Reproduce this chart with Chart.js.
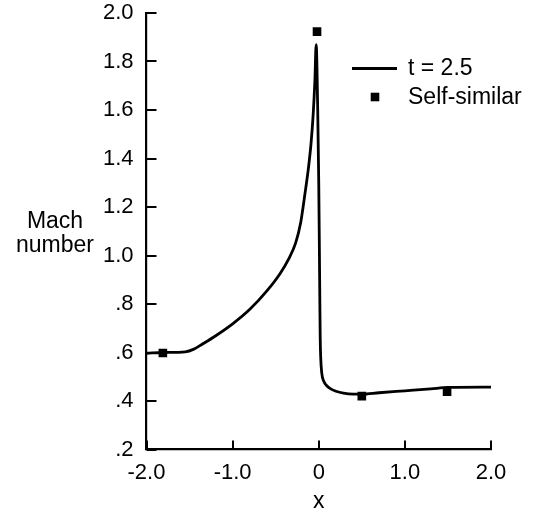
<!DOCTYPE html>
<html>
<head>
<meta charset="utf-8">
<script src="https://cdn.jsdelivr.net/npm/chart.js@4"></script>
<style>
  html, body { margin: 0; padding: 0; background: #fff; }
  #wrap { width: 543px; height: 514px; }
</style>
</head>
<body>
<div id="wrap"><canvas id="c" width="543" height="514"></canvas></div>
<script>
// ---- data ----
const curveX = [-2.0, -1.8, -1.55, -1.45, -1.35, -1.2, -1.0, -0.8, -0.6, -0.45, -0.35, -0.27, -0.21, -0.16, -0.12, -0.09, -0.065, -0.045, -0.03, -0.012, 0.0, 0.008, 0.013, 0.017, 0.022, 0.035, 0.06, 0.09, 0.13, 0.2, 0.286, 0.4, 0.5, 0.7, 1.0, 1.3, 1.5, 2.0];
const curveY = [0.597, 0.600, 0.603, 0.614, 0.635, 0.668, 0.718, 0.778, 0.855, 0.925, 0.985, 1.050, 1.135, 1.255, 1.360, 1.460, 1.580, 1.720, 1.870, 1.600, 1.300, 1.000, 0.800, 0.660, 0.585, 0.515, 0.480, 0.464, 0.452, 0.440, 0.432, 0.428, 0.428, 0.434, 0.442, 0.450, 0.456, 0.457];
const simX = [-1.81, -0.02, 0.5, 1.49];
const simY = [0.598, 1.923, 0.42, 0.438];
const xTickValues = [-2, -1, 0, 1, 2];
const xTickLabels = ['-2.0', '-1.0', '0', '1.0', '2.0'];
const yTickValues = [0.2, 0.4, 0.6, 0.8, 1.0, 1.2, 1.4, 1.6, 1.8, 2.0];
const yTickLabels = ['.2', '.4', '.6', '.8', '1.0', '1.2', '1.4', '1.6', '1.8', '2.0'];
const seriesNames = ['t = 2.5', 'Self-similar'];
const yTitleLines = ['Mach', 'number'];
const xTitle = 'x';

const FONT = '"Liberation Sans", Arial, Helvetica, sans-serif';

const customDraw = {
  id: 'customDraw',
  afterDraw(chart) {
    const ctx = chart.ctx;
    const xs = chart.scales.x, ys = chart.scales.y;
    const ca = chart.chartArea;
    ctx.save();
    ctx.strokeStyle = '#000';
    ctx.lineWidth = 2;
    // inward ticks on y axis
    yTickValues.forEach(v => {
      const py = Math.round(ys.getPixelForValue(v));
      ctx.beginPath();
      ctx.moveTo(ca.left, py);
      ctx.lineTo(ca.left + 10, py);
      ctx.stroke();
    });
    // inward ticks on x axis
    xTickValues.forEach(v => {
      const px = Math.round(xs.getPixelForValue(v));
      ctx.beginPath();
      ctx.moveTo(px, ca.bottom);
      ctx.lineTo(px, ca.bottom - 9);
      ctx.stroke();
    });
    // y title (horizontal, two lines)
    ctx.fillStyle = '#000';
    ctx.font = '23px ' + FONT;
    ctx.textAlign = 'center';
    ctx.textBaseline = 'alphabetic';
    ctx.fillText(yTitleLines[0], 55, 228);
    ctx.fillText(yTitleLines[1], 55, 252);
    // x title
    ctx.textBaseline = 'alphabetic';
    ctx.fillText(xTitle, xs.getPixelForValue(0), 508);
    // legend
    const ds0 = chart.data.datasets[0], ds1 = chart.data.datasets[1];
    ctx.strokeStyle = ds0.borderColor;
    ctx.lineWidth = ds0.borderWidth;
    ctx.beginPath();
    ctx.moveTo(352, 68.5);
    ctx.lineTo(397, 68.5);
    ctx.stroke();
    ctx.fillStyle = ds1.backgroundColor;
    ctx.fillRect(375 - 4.3, 97 - 4.3, 8.6, 8.6);
    ctx.fillStyle = '#000';
    ctx.font = '23px ' + FONT;
    ctx.textAlign = 'left';
    ctx.textBaseline = 'middle';
    ctx.fillText(seriesNames[0], 408, 68.5);
    ctx.fillText(seriesNames[1], 408, 98);
    ctx.restore();
  }
};

new Chart(document.getElementById('c'), {
  type: 'scatter',
  data: {
    datasets: [
      {
        label: seriesNames[0],
        data: curveX.map((x, i) => ({ x: x, y: curveY[i] })),
        showLine: true,
        borderColor: '#000',
        backgroundColor: '#000',
        borderWidth: 2.8,
        pointRadius: 0,
        cubicInterpolationMode: 'monotone',
        order: 2
      },
      {
        label: seriesNames[1],
        data: simX.map((x, i) => ({ x: x, y: simY[i] })),
        showLine: false,
        pointStyle: 'rect',
        pointRadius: 6.1,
        borderWidth: 0,
        backgroundColor: '#000',
        borderColor: '#000',
        order: 1
      }
    ]
  },
  options: {
    responsive: false,
    animation: false,
    devicePixelRatio: 1,
    layout: { padding: { left: 0, top: 13, right: 52, bottom: 0 } },
    plugins: { legend: { display: false }, tooltip: { enabled: false } },
    scales: {
      x: {
        type: 'linear',
        min: -2, max: 2,
        afterBuildTicks: s => { s.ticks = xTickValues.map(v => ({ value: v })); },
        afterFit: s => { s.height = 64.5; },
        grid: { display: false, drawTicks: false },
        border: { display: true, color: '#000', width: 2.2 },
        ticks: {
          color: '#000',
          font: { family: FONT, size: 22 },
          padding: 10,
          maxRotation: 0,
          autoSkip: false,
          callback: (v) => { const i = xTickValues.indexOf(v); return i >= 0 ? xTickLabels[i] : ''; }
        }
      },
      y: {
        type: 'linear',
        min: 0.2, max: 2.0,
        afterBuildTicks: s => { s.ticks = yTickValues.map(v => ({ value: v })); },
        afterFit: s => { s.width = 146.5; s.paddingTop = 0; s.paddingBottom = 0; },
        grid: { display: false, drawTicks: false },
        border: { display: true, color: '#000', width: 2.2 },
        ticks: {
          color: '#000',
          font: { family: FONT, size: 22 },
          padding: 13,
          autoSkip: false,
          callback: (v, idx) => yTickLabels[idx]
        }
      }
    }
  },
  plugins: [customDraw]
});
</script>
</body>
</html>
